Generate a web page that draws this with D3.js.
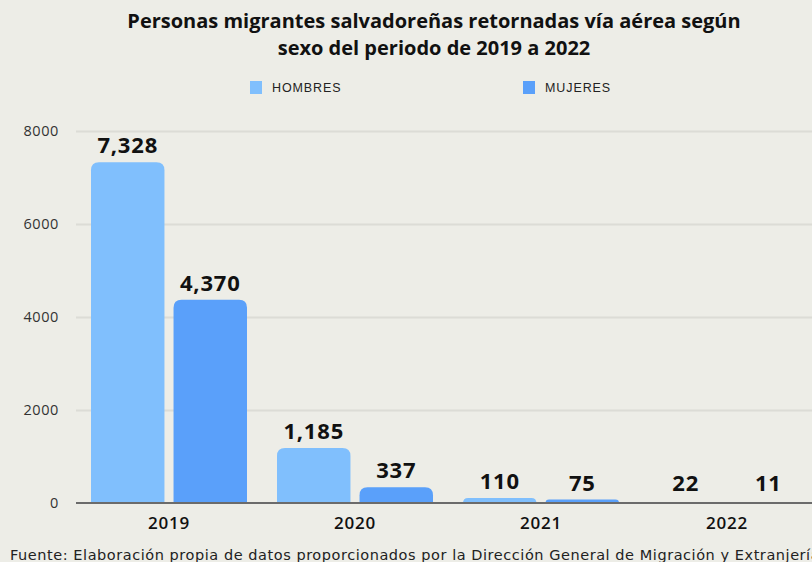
<!DOCTYPE html>
<html lang="es">
<head>
<meta charset="UTF-8"/>
<title>Personas migrantes salvadoreñas retornadas</title>
<script src="https://d3js.org/d3.v7.min.js"></script>
<style>
  body { margin: 0; background: #ededE7; }
  svg { display: block; font-family: "Open Sans", sans-serif; }
  .grid line { stroke: #dcdcd6; stroke-width: 2; }
  .grid .domain { display: none; }
</style>
</head>
<body>
<script>
// data
var years = ["2019", "2020", "2021", "2022"];
var hombres = [7328, 1185, 110, 22];
var mujeres = [4370, 337, 75, 11];
var series = ["HOMBRES", "MUJERES"];
var colors = ["#80bffd", "#5aa0fa"];
var yTicks = [0, 2000, 4000, 6000, 8000];

var W = 812, H = 562;
var margin = {top: 131, left: 76, bottom: 59};
var plotH = H - margin.top - margin.bottom;

var svg = d3.select("body").append("svg")
    .attr("width", W)
    .attr("height", H);

svg.append("rect").attr("width", W).attr("height", H).attr("fill", "#ededE7");

// title
var title = svg.append("text")
    .attr("x", 406).attr("text-anchor", "middle")
    .attr("font-size", 20).attr("font-weight", 700).attr("fill", "#111");
title.append("tspan").attr("x", 434).attr("y", 28).text("Personas migrantes salvadoreñas retornadas vía aérea según");
title.append("tspan").attr("x", 434).attr("y", 55).text("sexo del periodo de 2019 a 2022");

// legend
var legendX = [250, 523];
series.forEach(function(s, i) {
  svg.append("rect").attr("x", legendX[i]).attr("y", 81).attr("width", 12).attr("height", 13)
      .attr("fill", colors[i]);
  svg.append("text").attr("x", legendX[i] + 22).attr("y", 92)
      .attr("font-family", "Liberation Sans, Arial, sans-serif")
      .attr("font-size", 12.5).attr("letter-spacing", 0.9).attr("fill", "#222").text(s);
});

// scales
var x0 = d3.scaleBand().domain(years).range([margin.left, margin.left + 4 * 186]).paddingInner(0).paddingOuter(0);
var x1 = d3.scaleBand().domain(series).range([15, 171]).paddingInner(0.11);
var y = d3.scaleLinear().domain([0, 8000]).range([margin.top + plotH, margin.top]);

// gridlines
var g = svg.append("g").attr("class", "grid")
    .attr("transform", "translate(" + margin.left + ",0)")
    .call(d3.axisLeft(y).tickValues(yTicks.slice(1)).tickSize(-(W - margin.left)).tickFormat(""));

// y tick labels
svg.append("g").selectAll("text").data(yTicks).join("text")
    .attr("x", 59).attr("y", function(d) { return y(d) + 5; })
    .attr("text-anchor", "end").attr("font-size", 14.5).attr("letter-spacing", 0.6).attr("fill", "#333")
    .text(function(d) { return d; });

// bars
var rows = years.map(function(yr, i) { return {year: yr, vals: [hombres[i], mujeres[i]]}; });
var r = 8;
function barPath(x, w, top, bottom) {
  var rr = Math.min(r, (bottom - top), w / 2);
  return "M" + x + "," + bottom +
    "V" + (top + rr) +
    "Q" + x + "," + top + " " + (x + rr) + "," + top +
    "H" + (x + w - rr) +
    "Q" + (x + w) + "," + top + " " + (x + w) + "," + (top + rr) +
    "V" + bottom + "Z";
}

var groups = svg.append("g").selectAll("g").data(rows).join("g")
    .attr("transform", function(d) { return "translate(" + x0(d.year) + ",0)"; });

groups.selectAll("path").data(function(d) { return d.vals.map(function(v, i) { return {s: series[i], v: v, i: i}; }); })
  .join("path")
    .attr("fill", function(d) { return colors[d.i]; })
    .attr("d", function(d) { return barPath(x1(d.s), x1.bandwidth(), y(d.v), y(0)); });

groups.selectAll("text").data(function(d) { return d.vals.map(function(v, i) { return {s: series[i], v: v}; }); })
  .join("text")
    .attr("x", function(d) { return x1(d.s) + x1.bandwidth() / 2; })
    .attr("y", function(d) { return Math.min(y(d.v), y(0) - 3) - 9; })
    .attr("text-anchor", "middle").attr("font-size", 22).attr("font-weight", 700)
    .attr("letter-spacing", 0.8).attr("fill", "#111")
    .text(function(d) { return d3.format(",")(d.v); });

// baseline
svg.append("line").attr("x1", margin.left).attr("x2", W)
    .attr("y1", y(0)).attr("y2", y(0)).attr("stroke", "#6b6b6b").attr("stroke-width", 2);

// x axis labels
svg.append("g").selectAll("text").data(years).join("text")
    .attr("x", function(d) { return x0(d) + 93; })
    .attr("y", 529).attr("text-anchor", "middle")
    .attr("font-size", 17).attr("font-weight", 600).attr("letter-spacing", 0.8).attr("fill", "#111")
    .text(function(d) { return d; });

// source
svg.append("text").attr("x", 10).attr("y", 560)
    .attr("font-family", "DejaVu Sans, sans-serif")
    .attr("font-size", 14.5).attr("letter-spacing", 0.55).attr("fill", "#222")
    .text("Fuente: Elaboración propia de datos proporcionados por la Dirección General de Migración y Extranjería");
</script>
</body>
</html>
